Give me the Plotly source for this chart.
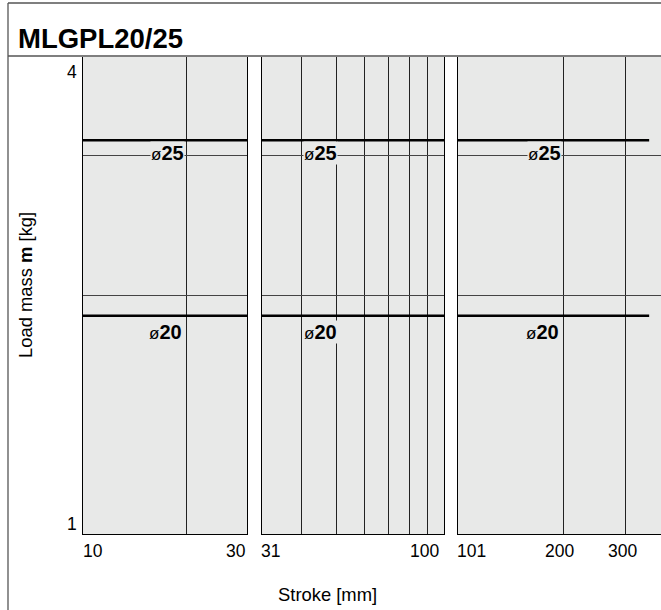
import math
import plotly.graph_objects as go

# ---------------- data ----------------
title_text = "MLGPL20/25"
diam_labels = ["25", "20"]            # bore sizes (ø)
load_mass = [3.14, 1.886]             # kg, allowable load mass line per bore
stroke_end = 350                      # mm, end of the lines
panel_ranges = [(10, 30), (31, 100), (101, 378)]   # stroke ranges of the three panels
panel_grid = [[20], [40, 50, 60, 70, 80, 90], [200, 300]]
y_range = (1, 4)
y_grid = [2, 3]
y_tick_labels = ["4", "1"]
x_tick_labels = [["10", "30"], ["31", "100"], ["101", "200", "300"]]
x_tick_vals = [[10, 30], [31, 100], [101, 200, 300]]
label_anchor_x = [20, 40, 200]        # x gridline the ø labels are attached to

W, H = 661, 610
BG = "rgb(232,233,232)"
GRID = "#222222"
FONT = "Liberation Sans, Arial, Helvetica, sans-serif"
FS = 17.5

def px(x):
    return x / W

def py(y):
    return 1 - y / H

x_domains = [[px(83), px(247)], [px(262), px(444)], [px(458), 1.0]]
y_domain = [py(534), py(57)]

fig = go.Figure()

for i, (lo, hi) in enumerate(panel_ranges):
    xa = "x" if i == 0 else f"x{i+1}"
    ya = "y" if i == 0 else f"y{i+1}"
    for m in load_mass:
        fig.add_trace(go.Scatter(
            x=[max(lo, 10), min(hi, stroke_end)], y=[m, m],
            mode="lines", line=dict(color="black", width=2.6),
            xaxis=xa, yaxis=ya, showlegend=False, hoverinfo="skip"))

for i, (lo, hi) in enumerate(panel_ranges):
    sfx = "" if i == 0 else str(i + 1)
    fig.layout["xaxis" + sfx] = dict(
        type="log", range=[math.log10(lo), math.log10(hi)], domain=x_domains[i],
        anchor="y" + sfx, tickvals=panel_grid[i], showticklabels=False, ticks="",
        showgrid=True, gridcolor=GRID, gridwidth=1, zeroline=False,
        showline=True, linecolor="black", linewidth=1.2, mirror=False)
    fig.layout["yaxis" + sfx] = dict(
        type="log", range=[math.log10(y_range[0]), math.log10(y_range[1])],
        domain=y_domain, anchor="x" + sfx, tickvals=y_grid, showticklabels=False,
        ticks="", showgrid=True, gridcolor="#444444", gridwidth=1, zeroline=False,
        showline=True, linecolor="black", linewidth=1.2,
        mirror=(i < 2))

annotations = []
# ø labels
for i in range(3):
    xr = "x" if i == 0 else f"x{i+1}"
    yr = "y" if i == 0 else f"y{i+1}"
    for k, (lab, m) in enumerate(zip(diam_labels, load_mass)):
        txt = "<span style='font-size:17px'>ø</span><b>" + lab + "</b>"
        if i == 1:
            anchor, xs = "left", 1
        else:
            anchor, xs = "right", -1 if k == 0 else -3
        yval = math.log10(3) if k == 0 else math.log10(m)
        ys = 3 if k == 0 else -16
        annotations.append(dict(
            x=math.log10(label_anchor_x[i]), y=yval, xref=xr, yref=yr,
            text=txt, showarrow=False, xanchor=anchor, yanchor="middle",
            xshift=xs, yshift=ys, bgcolor=BG, borderpad=0,
            font=dict(family=FONT, size=20, color="black")))

# x tick labels
shifts = [[(-2, "left"), (1, "right")], [(-3, "left"), (-3, "right")],
          [(-3, "left"), (-4, "center"), (-3, "center")]]
for i in range(3):
    xr = "x" if i == 0 else f"x{i+1}"
    for lab, v, (xs, anc) in zip(x_tick_labels[i], x_tick_vals[i], shifts[i]):
        annotations.append(dict(
            x=math.log10(v), y=y_domain[0], xref=xr, yref="paper",
            text=lab, showarrow=False, xanchor=anc, yanchor="top",
            xshift=xs, yshift=-5, font=dict(family=FONT, size=FS, color="black")))

# y tick labels
annotations.append(dict(x=px(79), y=y_domain[1], xref="paper", yref="paper",
                        text=y_tick_labels[0], showarrow=False, xanchor="right",
                        yanchor="top", yshift=-3,
                        font=dict(family=FONT, size=FS, color="black")))
annotations.append(dict(x=px(79), y=y_domain[0], xref="paper", yref="paper",
                        text=y_tick_labels[1], showarrow=False, xanchor="right",
                        yanchor="bottom", yshift=-2,
                        font=dict(family=FONT, size=FS, color="black")))

# axis titles
annotations.append(dict(x=px(327), y=py(594), xref="paper", yref="paper",
                        text="Stroke [mm]", showarrow=False, xanchor="center",
                        yanchor="middle", font=dict(family=FONT, size=18.4, color="black")))
annotations.append(dict(x=px(25), y=py(285), xref="paper", yref="paper",
                        text="Load mass <b>m</b> [kg]", textangle=-90, showarrow=False,
                        xanchor="center", yanchor="middle",
                        font=dict(family=FONT, size=18.4, color="black")))
# title
annotations.append(dict(x=px(16), y=py(38), xref="paper", yref="paper",
                        text="<b>" + title_text + "</b>", showarrow=False,
                        xanchor="left", yanchor="middle",
                        font=dict(family=FONT, size=27.5, color="black")))

shapes = [
    dict(type="line", xref="paper", yref="paper", x0=px(8), x1=1, y0=py(3), y1=py(3),
         line=dict(color="#555", width=1.3)),
    dict(type="line", xref="paper", yref="paper", x0=px(8), x1=px(8), y0=py(3), y1=0,
         line=dict(color="#555", width=1.3)),
    dict(type="line", xref="paper", yref="paper", x0=px(8), x1=1, y0=py(56), y1=py(56),
         line=dict(color="#555", width=1.3)),
]

fig.update_layout(
    width=W, height=H, autosize=False,
    margin=dict(l=0, r=0, t=0, b=0, pad=0),
    paper_bgcolor="white", plot_bgcolor=BG,
    annotations=annotations, shapes=shapes, showlegend=False,
)

fig.write_html("out.html", config={"displayModeBar": False},
               post_script="document.body.style.margin='0';"
                           "document.body.style.overflow='hidden';")
